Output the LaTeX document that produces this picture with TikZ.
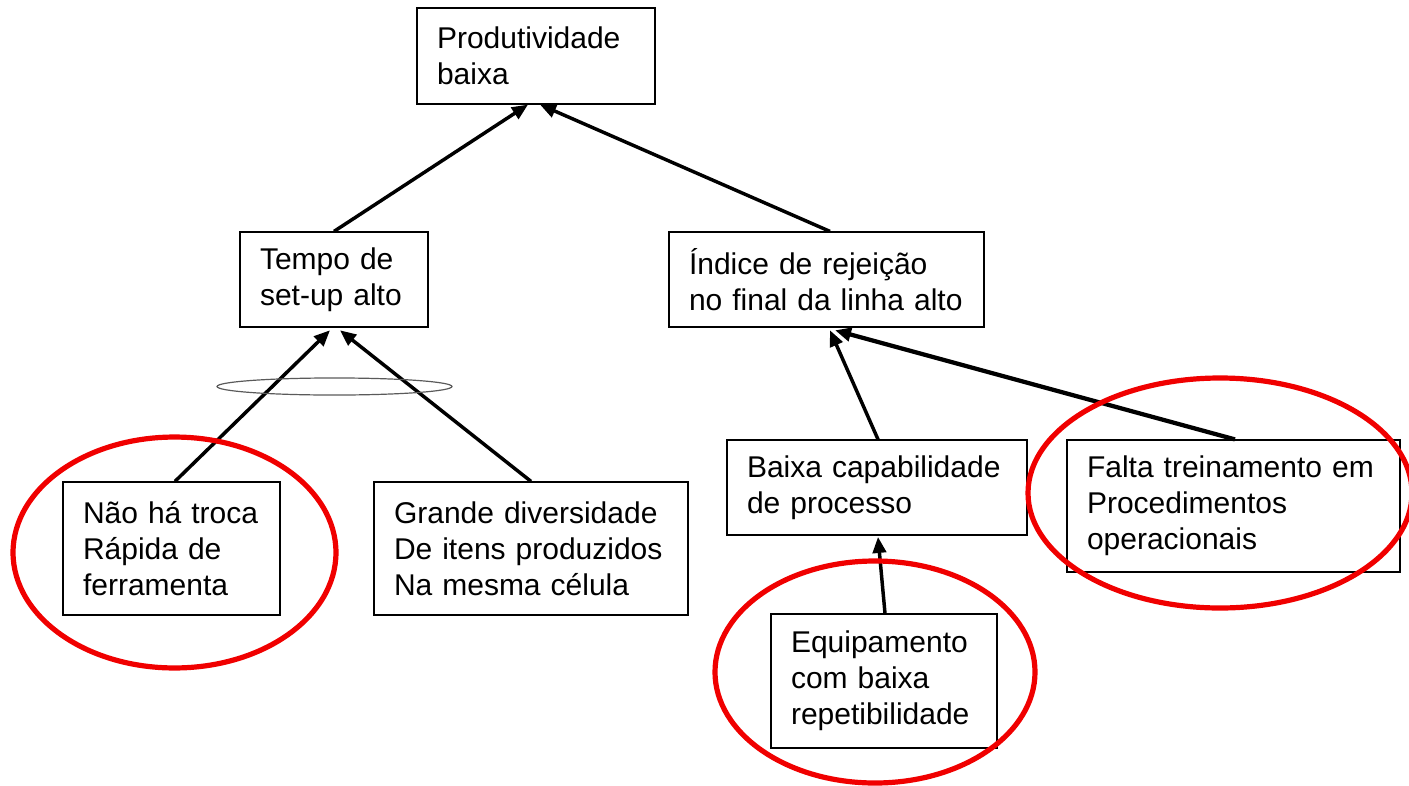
\documentclass[tikz,border=0pt]{standalone}
\usepackage{fontspec}
\setmainfont{Liberation Sans}
\usetikzlibrary{arrows.meta}
\definecolor{diagcolor0001}{RGB}{0,0,0}
\definecolor{diagcolor0002}{RGB}{240,0,0}
\definecolor{diagcolor0003}{RGB}{90,90,90}
\begin{document}
\begin{tikzpicture}[x=0.75pt,y=-0.75pt
,cstyle0/.style={draw=diagcolor0001,line width=0.9pt,rectangle,align=left,inner xsep=15pt,inner ysep=0pt,font=\fontsize{22.5pt}{27pt}\selectfont}
,cstyle1/.style={color=diagcolor0001,line width=2.6pt,-{Triangle[length=12pt,width=10pt]}}
,cstyle2/.style={color=diagcolor0002,line width=3.9pt}
,cstyle3/.style={color=diagcolor0003,line width=0.9pt}
]
\useasboundingbox (0,0) rectangle (1409,785);
\node[cstyle0,text width=148.5pt,minimum height=72pt] (produtividade) at (536,56) {Produtividade\\baixa};
\node[cstyle0,text width=111pt,minimum height=71.25pt] (tempo) at (334,279.5) {Tempo de\\set-up alto};
\node[cstyle0,text width=206.25pt,minimum height=71.25pt] (rejeicao) at (826.5,279.5) {Índice de rejeição\\no final da linha alto};
\node[cstyle0,text width=132.75pt,minimum height=99.75pt] (troca) at (171.5,548.5) {Não há troca\\Rápida de\\ferramenta};
\node[cstyle0,text width=205.5pt,minimum height=99.75pt] (diversidade) at (531,548.5) {Grande diversidade\\De itens produzidos\\Na mesma célula};
\node[cstyle0,text width=195pt,minimum height=71.25pt] (capabilidade) at (877,487.5) {Baixa capabilidade\\de processo};
\node[cstyle0,text width=219.75pt,minimum height=99pt] (treinamento) at (1233.5,506) {Falta treinamento em\\Procedimentos\\operacionais};
\node[cstyle0,text width=139.5pt,minimum height=100.5pt] (equipamento) at (884,681) {Equipamento\\com baixa\\repetibilidade};
\draw[cstyle1] (tempo.north) -- ([xshift=-6pt]produtividade.south);
\draw[cstyle1] ([xshift=2.6pt]rejeicao.north) -- ([xshift=3pt]produtividade.south);
\draw[cstyle1] ([xshift=2.6pt]troca.north) -- ([xshift=-3pt,yshift=-2pt]tempo.south);
\draw[cstyle1] (diversidade.north) -- ([xshift=4.5pt,yshift=-2pt]tempo.south);
\draw[cstyle1] ([xshift=0.75pt]capabilidade.north) -- ([xshift=2.6pt,yshift=-2pt]rejeicao.south);
\draw[cstyle1,line width=3.2pt] ([xshift=1.1pt]treinamento.north) -- ([xshift=6.4pt,yshift=-2pt]rejeicao.south);
\draw[cstyle1] ([xshift=0.75pt]equipamento.north) -- ([xshift=0.75pt,yshift=-1pt]capabilidade.south);
\draw[cstyle3] (334.5,386.5) ellipse (88.1pt and 6.4pt);
\draw[cstyle2] (174.5,552.5) ellipse (121.1pt and 86.6pt);
\draw[cstyle2] (875,672) ellipse (120pt and 83.25pt);
\draw[cstyle2] (1220,493) ellipse (144pt and 86.25pt);
\end{tikzpicture}
\end{document}
